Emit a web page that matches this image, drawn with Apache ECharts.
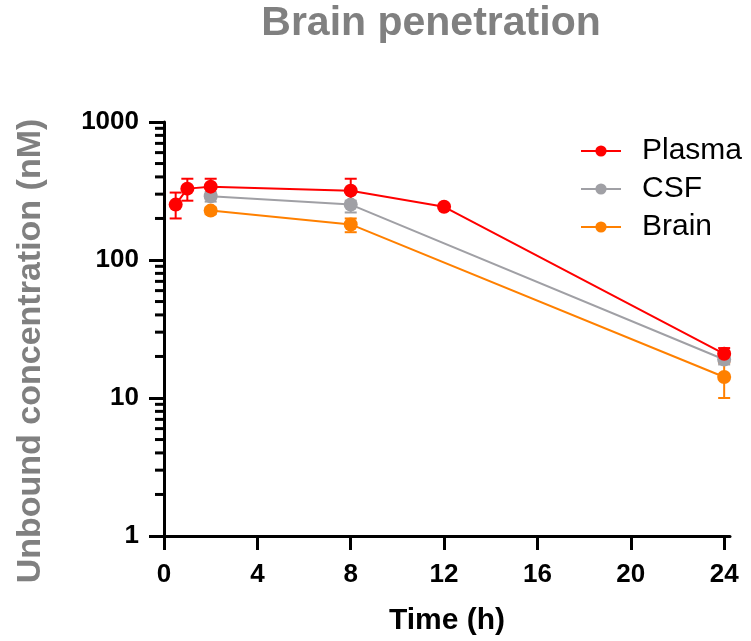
<!DOCTYPE html>
<html>
<head>
<meta charset="utf-8">
<script src="https://cdn.jsdelivr.net/npm/echarts@6/dist/echarts.min.js"></script>
<style>html,body{margin:0;padding:0;background:#fff;}#c{width:751px;height:641px;}</style>
</head>
<body>
<div id="c"></div>
<script>
// ---- data ----
const plasmaTime = [0.5, 1, 2, 8, 12, 24];
const plasmaMean = [252, 329, 340, 318, 243, 20.9];
const plasmaLow  = [200, 269, 300, 252, 243, 18.3];
const plasmaHigh = [308, 388, 388, 388, 243, 23];

const csfTime = [2, 8, 24];
const csfMean = [290, 252, 19];
const csfLow  = [265, 221, 17.5];
const csfHigh = [310, 269, 20.5];

const brainTime = [2, 8, 24];
const brainMean = [228, 181, 14.2];
const brainLow  = [215, 159, 10];
const brainHigh = [240, 200, 18];

const xTicks = [0, 4, 8, 12, 16, 20, 24];
const yMinorTicks = [2,3,4,5,6,7,8,9,20,30,40,50,60,70,80,90,200,300,400,500,600,700,800,900];

const seriesNames = ['Plasma', 'CSF', 'Brain'];
const colors = {Plasma: '#ff0000', CSF: '#a0a0a5', Brain: '#ff8000'};
const FONT = 'Liberation Sans, Arial, sans-serif';

function pairs(t, v) { return t.map((x, i) => [x, v[i]]); }
function errData(t, lo, hi) { return t.map((x, i) => [x, lo[i], hi[i]]); }

function errSeries(name, data) {
  const c = colors[name];
  return {
    type: 'custom', name: name + ' err', silent: true, z: 3,
    data: data,
    encode: {x: 0, y: [1, 2]},
    renderItem: function (params, api) {
      const x = api.value(0), lo = api.value(1), hi = api.value(2);
      if (lo === hi) return null;
      const p1 = api.coord([x, lo]);
      const p2 = api.coord([x, hi]);
      const w = 6;
      const st = {stroke: c, lineWidth: 2};
      return {type: 'group', children: [
        {type: 'line', shape: {x1: p1[0], y1: p1[1], x2: p2[0], y2: p2[1]}, style: st},
        {type: 'line', shape: {x1: p1[0]-w, y1: p1[1], x2: p1[0]+w, y2: p1[1]}, style: st},
        {type: 'line', shape: {x1: p2[0]-w, y1: p2[1], x2: p2[0]+w, y2: p2[1]}, style: st}
      ]};
    }
  };
}
function lineSeries(name, data) {
  const c = colors[name];
  return {
    type: 'line', name: name, data: data, z: 3,
    symbol: 'circle', symbolSize: 14, showSymbol: true,
    lineStyle: {color: c, width: 2},
    itemStyle: {color: c},
    emphasis: {disabled: true}
  };
}

const chart = echarts.init(document.getElementById('c'));
chart.setOption({
  animation: false,
  backgroundColor: '#ffffff',
  textStyle: {fontFamily: FONT},
  legend: {
    data: seriesNames,
    orient: 'vertical', left: 580, top: 136, padding: 0,
    itemWidth: 40, itemHeight: 14, itemGap: 8,
    textStyle: {fontSize: 30, color: '#000', lineHeight: 30, padding: [0,0,0,16]}
  },
  grid: {left: 164, right: 21, top: 122, bottom: 104, containLabel: false},
  xAxis: {
    type: 'value', min: 0, max: 24.25, interval: 4,
    name: 'Time (h)', nameLocation: 'middle', nameGap: 70,
    nameTextStyle: {fontSize: 30, fontWeight: 'bold', color: '#000'},
    axisLine: {lineStyle: {color: '#000', width: 3}},
    axisTick: {length: 14, lineStyle: {color: '#000', width: 3}, customValues: xTicks},
    axisLabel: {fontSize: 26, fontWeight: 'bold', color: '#000', margin: 26, customValues: xTicks},
    splitLine: {show: false}
  },
  yAxis: {
    type: 'log', logBase: 10, min: 1, max: 1000,
    axisLine: {show: true, lineStyle: {color: '#000', width: 3}},
    axisTick: {show: true, length: 15, lineStyle: {color: '#000', width: 3}},
    axisLabel: {fontSize: 26, fontWeight: 'bold', color: '#000', margin: 25,
      formatter: function (v) { return String(v); }},
    splitLine: {show: false},
    minorTick: {show: false}
  },
  graphic: [{
    type: 'text', x: 431, y: 24,
    style: {text: 'Brain penetration', fill: '#808080', fontSize: 41, fontWeight: 'bold',
      fontFamily: FONT, textAlign: 'center', textVerticalAlign: 'middle'}
  }, {
    type: 'text', x: 31, y: 351, rotation: Math.PI / 2,
    style: {text: 'Unbound concentration (nM)', fill: '#808080', fontSize: 34, fontWeight: 'bold',
      fontFamily: FONT, textAlign: 'center', textVerticalAlign: 'middle'}
  }],
  series: [
    {
      type: 'custom', name: 'minorTicks', silent: true, z: 4,
      data: yMinorTicks.map(v => [0, v]),
      encode: {x: 0, y: 1},
      clip: false,
      renderItem: function (params, api) {
        const p = api.coord([0, api.value(1)]);
        return {type: 'line', shape: {x1: p[0] - 9, y1: p[1], x2: p[0] - 1, y2: p[1]},
          style: {stroke: '#000', lineWidth: 3}};
      }
    },
    lineSeries('Brain', pairs(brainTime, brainMean)),
    errSeries('Brain', errData(brainTime, brainLow, brainHigh)),
    lineSeries('CSF', pairs(csfTime, csfMean)),
    errSeries('CSF', errData(csfTime, csfLow, csfHigh)),
    lineSeries('Plasma', pairs(plasmaTime, plasmaMean)),
    errSeries('Plasma', errData(plasmaTime, plasmaLow, plasmaHigh))
  ]
});
</script>
</body>
</html>
